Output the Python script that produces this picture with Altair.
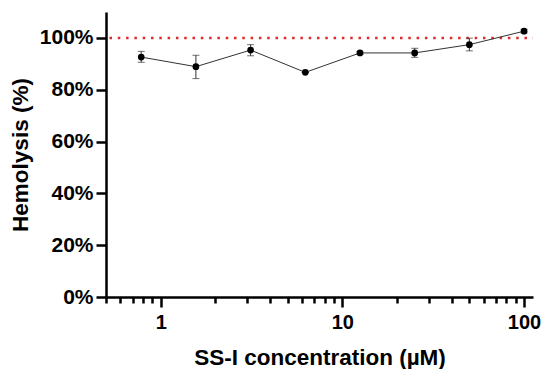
import altair as alt
import pandas as pd

# ---- data ----
conc = [0.78125, 1.5625, 3.125, 6.25, 12.5, 25, 50, 100]
hemo = [92.6, 88.9, 95.3, 86.7, 94.2, 94.2, 97.4, 102.6]
err_lo = [90.6, 84.3, 93.1, 86.7, 93.7, 92.5, 95.0, 101.9]
err_hi = [94.8, 93.3, 97.4, 86.7, 94.7, 96.0, 99.9, 103.3]
x_ticks = [0.5, 0.6, 0.7, 0.8, 0.9, 1, 2, 3, 4, 5, 6, 7, 8, 9,
           10, 20, 30, 40, 50, 60, 70, 80, 90, 100]
y_ticks = [0, 20, 40, 60, 80, 100]
ref_level = [100]

df = pd.DataFrame({"conc": conc, "hemo": hemo, "lo": err_lo, "hi": err_hi})
ref_df = pd.DataFrame({"ref": ref_level})

FONT = "Liberation Sans"

major_test = "datum.value == 1 || datum.value == 10 || datum.value == 100"

xscale = alt.Scale(type="log", domain=[0.5, 112], nice=False)
yscale = alt.Scale(domain=[0, 110], nice=False)

x_axis = alt.Axis(
    values=x_ticks,
    labelExpr="(" + major_test + ") ? datum.label : ''",
    title="SS-I concentration (µM)",
    tickSize={"condition": {"test": major_test, "value": 10}, "value": 6},
    tickWidth=2.5, tickColor="black",
    domainWidth=2.5, domainColor="black",
    labelFont=FONT, labelFontWeight="bold", labelFontSize=20, labelColor="black",
    labelPadding=5, labelFlush=False, labelOverlap=False,
    titleFont=FONT, titleFontWeight="bold", titleFontSize=22.5, titleColor="black",
    titlePadding=14, grid=False,
)
y_axis = alt.Axis(
    values=y_ticks,
    labelExpr="datum.value + '%'",
    title="Hemolysis (%)",
    tickSize=10, tickWidth=2.5, tickColor="black",
    domainWidth=2.5, domainColor="black",
    labelFont=FONT, labelFontWeight="bold", labelFontSize=21, labelColor="black",
    labelPadding=3,
    titleFont=FONT, titleFontWeight="bold", titleFontSize=22.5, titleColor="black",
    titlePadding=7, grid=False,
)

base = alt.Chart(df)

line = base.mark_line(color="#333333", strokeWidth=1).encode(
    x=alt.X("conc:Q", scale=xscale, axis=x_axis),
    y=alt.Y("hemo:Q", scale=yscale, axis=y_axis),
)
bars = base.mark_rule(color="#333333", strokeWidth=1).encode(
    x="conc:Q", y="lo:Q", y2="hi:Q"
)
cap_lo = base.mark_tick(color="#333333", orient="horizontal", size=7, thickness=1).encode(
    x="conc:Q", y="lo:Q"
)
cap_hi = base.mark_tick(color="#333333", orient="horizontal", size=7, thickness=1).encode(
    x="conc:Q", y="hi:Q"
)
points = base.mark_circle(color="black", size=45, opacity=1).encode(
    x="conc:Q", y="hemo:Q"
)
ref = alt.Chart(ref_df).mark_rule(
    color="#e02a2a", strokeWidth=2.5, strokeDash=[2.5, 5.8], strokeDashOffset=-6
).encode(y="ref:Q")

chart = alt.layer(ref, line, bars, cap_lo, cap_hi, points).properties(
    width=427, height=285,
    autosize=alt.AutoSizeParams(type="none"),
    padding={"left": 98, "top": 4, "right": 9, "bottom": 72},
    background="white",
).configure_view(stroke=None)

chart.save("out.html", embed_options={"renderer": "svg", "actions": False})
